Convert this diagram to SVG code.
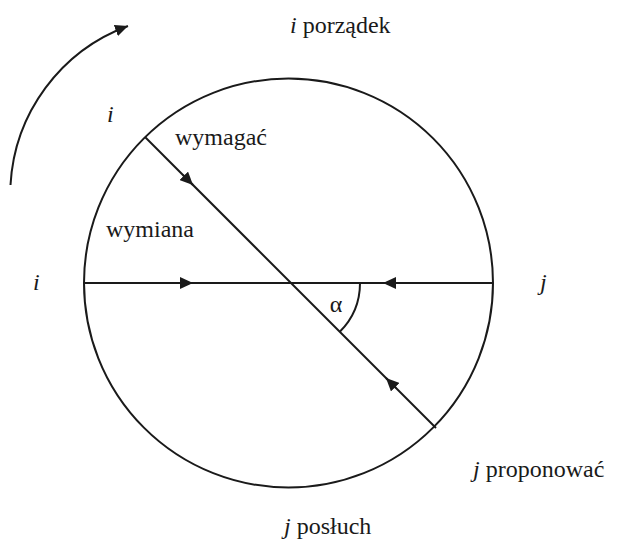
<svg xmlns="http://www.w3.org/2000/svg" width="617" height="542" viewBox="0 0 617 542">
<style>
.ln{fill:none;stroke:#1a1a1a;stroke-width:2}
text{font-family:'Times New Roman','Liberation Serif',Tinos,'Nimbus Roman','DejaVu Serif',serif;font-size:24px;fill:#1a1a1a}
.it{font-style:italic}
</style>
<defs>
<marker id="ah" markerUnits="userSpaceOnUse" viewBox="0 0 13 12" refX="13" refY="6" markerWidth="13" markerHeight="12" orient="auto">
<path d="M0,0 L13,6 L0,12 z" fill="#1a1a1a"/>
</marker>
</defs>
<rect width="617" height="542" fill="#fff"/>
<g id="circle">
<circle class="ln" cx="288.5" cy="283" r="204.5"/>
</g>
<g id="connectors">
<path class="ln" d="M84,283 L493,283"/>
<path class="ln" d="M145,137 L436,428"/>
<path class="ln" d="M180,283 L193,283" marker-end="url(#ah)"/>
<path class="ln" d="M396,283 L383,283" marker-end="url(#ah)"/>
<path class="ln" d="M183,175 L193,185" marker-end="url(#ah)"/>
<path class="ln" d="M396,388 L386,378" marker-end="url(#ah)"/>
<path class="ln" d="M10.5,185 A180,180 0 0 1 128,26" marker-end="url(#ah)"/>
<path class="ln" d="M360,283 A69,69 0 0 1 339.8,331.8"/>
</g>
<g id="labels">
<text x="290" y="33"><tspan class="it">i</tspan> porządek</text>
<text class="it" x="107" y="122">i</text>
<text x="175" y="145">wymagać</text>
<text x="106" y="237">wymiana</text>
<text class="it" x="33" y="290">i</text>
<text class="it" x="540" y="290">j</text>
<text x="336" y="312" text-anchor="middle">α</text>
<text x="473" y="477"><tspan class="it">j</tspan> proponować</text>
<text x="284" y="534"><tspan class="it">j</tspan> posłuch</text>
</g>
</svg>
